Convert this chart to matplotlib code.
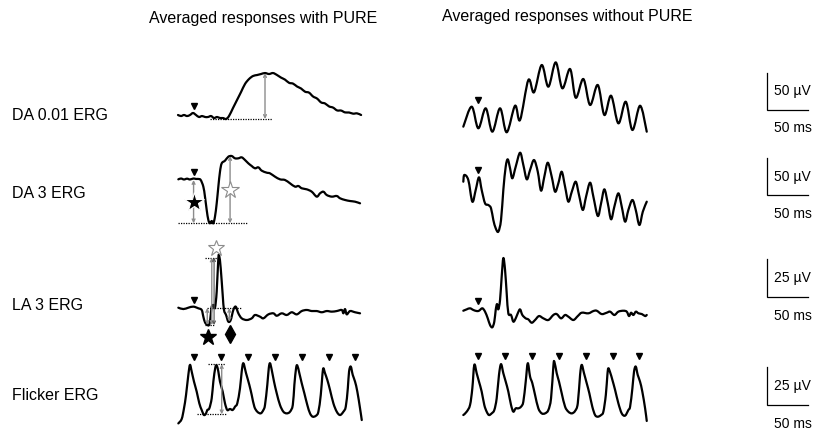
import matplotlib
matplotlib.use("Agg")
import matplotlib.pyplot as plt
import matplotlib.transforms as mtransforms
from matplotlib.path import Path
from matplotlib.patches import PathPatch

plt.rcParams['font.family'] = ['Liberation Sans', 'DejaVu Sans']

# ---------------- data (time in ms, amplitude in µV) ----------------
DA001_WITH = [(0,0),(3.7,-1.4),(7.3,0),(11,-1.4),(14.6,0),(18.3,2.7),(22,0),(25.6,-2.7),(29.3,-1.4),
              (33,-2.7),(36.6,-2.7),(40.3,-1.4),(43.9,-4.1),(47.6,-2.7),(51.2,-4.1),(54.9,-4.1),(58.6,-5.4),
              (62.2,-1.4),(67.1,9.5),(72,20.3),(76.9,31.1),(81.7,41.9),(86.6,48.6),(91.5,52.7),(96.4,54),
              (101.3,55.4),(106.1,56.7),(111,55.4),(115.9,56.7),(120.8,54),(125.7,50.5),(130.5,47.8),
              (135.4,43.5),(140.3,42.4),(145.2,38.5),(150.1,35.8),(154.9,31.5),(159.8,30.2),(164.7,25),
              (169.6,22.2),(174.5,17),(179.3,15.6),(184.2,11.6),(189.1,10),(194,6.2),(198.9,6),(203.7,3.5),
              (208.6,3.4),(213.5,1.8),(218.4,2.2),(223.3,0)]
DA001_WITHOUT = [(1.6,-9),(11.8,18),(19.9,-11.2),(28.9,15.8),(37,-15.8),(46.4,15.8),(54.5,-16.6),(64.7,19.3),
                 (70.8,0),(80.9,54),(87.8,37.4),(97.2,74.3),(105.3,45),(114.3,77.9),(122.4,42.8),(131.8,68.9),
                 (138.7,30.1),(148,55.4),(156.2,20.3),(165.6,47.3),(173.6,6.8),(181.8,32.8),(190.7,-4.5),
                 (199.7,24.7),(207.8,-13.5),(217.2,19.3),(225.3,-15.8)]
DA3_WITH = [(0.4,0.9),(3.7,2),(7.3,0.7),(11,1.8),(14.6,0.7),(18.7,2),(22,1.4),(25,1.4),(27.7,0),(30.9,-9),
            (32.9,-22.5),(35,-40.5),(37,-54),(39,-58.5),(41.1,-55.4),(43.1,-58.5),(45.1,-49.5),(47.2,-31.5),
            (49.2,-9),(51.2,11.2),(53.3,22.5),(57.3,26.1),(61.4,31.5),(65.5,32.4),(69.5,29.3),(73.6,29.3),
            (77.7,30.6),(81.7,27),(85.8,22.5),(89.9,18.9),(93.9,15.8),(98,17.1),(102.1,12.6),(108.2,9.9),
            (112.2,9),(118.3,4.5),(124.4,0.9),(130.5,0),(136.6,-4.5),(142.7,-9),(146.8,-8.1),(150.9,-11.2),
            (157,-12.6),(163.1,-15.8),(169.2,-22.5),(173.2,-18),(177.3,-15.8),(181.4,-20.3),(187.5,-22.5),
            (193.6,-21.6),(197.6,-24.7),(203.7,-27),(209.8,-28.4),(215.9,-29.3),(222,-31.5)]
DA3_WITHOUT = [(1.6,-2.3),(2.8,6.8),(7.7,0),(12.6,-29.3),(16.7,-13.5),(20.7,3.6),(24,-13.5),(28.1,-31.5),
               (32.1,-33.8),(35.4,-38.2),(38.2,-54),(41.1,-65.2),(44.3,-69.8),(47.6,-54),(50.4,-13.5),
               (53.3,18),(55.8,27.9),(58.6,15.8),(61.4,2.3),(65.5,18),(70.8,36.9),(74.8,20.3),(79,0.9),
               (83,13.5),(87.8,27),(92.4,11.2),(96.4,-14.4),(100.4,4.5),(104.6,23.4),(109.4,4.5),(113.5,-15.8),
               (117.5,-4.5),(121.6,11.2),(125.7,-9),(129.7,-29.3),(133.9,-15.8),(138.7,-2.3),(142.7,-20.3),
               (147.3,-40.5),(151.3,-22.5),(156.2,-3.6),(160.2,-22.5),(165.6,-48.6),(169.6,-31.5),
               (173.6,-12.6),(177.8,-31.5),(181.8,-53.1),(185.8,-36),(190.7,-18),(194.8,-36),(198.9,-56.3),
               (202.9,-40.5),(207.8,-27),(211.9,-40.5),(216.3,-60.8),(220.5,-42.8),(225.3,-29.3)]
LA3_WITH = [(0.4,0.2),(6.5,-0.7),(12.6,0.2),(18.7,0.9),(24.8,-0.2),(28.9,-1.3),(30.9,-5.7),(32.9,-9.4),
            (35.7,-11.2),(38.2,-10.8),(39.9,-4.6),(41.1,0.9),(43.1,2),(45.1,0.2),(47.2,10.8),(49.2,32.8),
            (50.4,33.9),(52.1,26.2),(54.5,8.6),(56.1,-1.3),(58.6,-4.6),(61.4,-9),(64.3,-7.9),(67.5,-1.3),
            (70.4,0.9),(73.6,-3.5),(77.7,-6.8),(83.8,-7.9),(89.9,-6.8),(93.9,-4.6),(100,-5.7),(104.1,-6.8),
            (110.2,-4.2),(116.3,-3.5),(120.4,-5.1),(126.5,-3.5),(132.6,-4.6),(138.7,-2.8),(144.8,-4.2),
            (150.9,-2),(157,-1.3),(163.1,-2),(169.2,-2),(175.3,-2.8),(181.4,-2),(187.5,-2.4),(193.6,-2),
            (199.7,-1.3),(201.7,-3.5),(203.7,-0.7),(205.8,-4.2),(209.8,-2),(215.9,-2.8),(222,-3.5)]
LA3_WITHOUT = [(1.6,-1.8),(5.7,-0.9),(9.8,-0.2),(13.8,-1.3),(17.9,-2),(20.7,-1.8),(24.8,-0.2),(28.1,-2.4),
               (31.4,-6.8),(34.2,-11.2),(37,-12.7),(39.4,-9),(41.1,-1.3),(42.7,2.6),(44.3,-0.9),(46.4,5.3),
               (48.4,20.7),(50.4,32.8),(52.5,25.1),(54.5,9.7),(56.5,-3.5),(59.8,-4.6),(62.6,-9),(65.5,-6.8),
               (68,-3.5),(70.8,-0.9),(73.6,-4.6),(77.7,-6.8),(80.9,-7.5),(85,-9.7),(89.1,-7.9),(93.9,-5.3),
               (99.2,-6.8),(105.3,-7.9),(111.4,-4.6),(115.5,-4),(120.8,-6.8),(125.7,-4.6),(129.7,-5.7),
               (135.8,-7.9),(141.2,-5.3),(146,-3.1),(154.1,-3.5),(160.2,-2),(164.3,-1.8),(170.4,-4),
               (176.5,-3.1),(180.6,-2.4),(185.8,-4.6),(190.7,-2.4),(196.8,-1.8),(200.9,-2.4),(203.7,-5.3),
               (206.2,-3.1),(209,-4.6),(212,-2.4),(215.2,-3.5),(219.4,-4),(223.3,-5.3),(225.3,-4.6)]
FLICKER_WITH = [(0.4,-7.5),(4.5,-4.6),(7.3,2.4),(9.8,11.2),(12.6,24.4),(14.6,31),(16.7,26.6),(19.5,20),
                (22.8,13.4),(26,5.7),(28.9,1.3),(31.7,-2),(34.2,-0.9),(35.7,1.3),(38.2,2.4),(41.1,9),(43.1,20),
                (45.5,29.2),(47.2,30.6),(49.2,26.6),(51.2,20),(54.5,13.4),(57.3,5.7),(60.1,1.3),(63.4,2),
                (66.7,1.3),(69.5,3.5),(72.3,5.7),(75.6,15.6),(77.7,26.6),(79.7,32.1),(83,25.5),(87,17.8),
                (89.9,11.2),(93.1,3.5),(96.7,0.2),(100.9,-0.9),(104.1,1.3),(106.1,4.6),(108.9,17.8),
                (110.7,28.8),(112.2,32.1),(114.3,27.7),(117.1,20),(120.4,12.3),(124.4,4.6),(128.5,0.2),
                (132.6,-0.9),(136.6,0.2),(140,4.6),(141.9,17.8),(144,28.8),(145.5,30.6),(148,25.5),
                (150.9,18.9),(154.1,12.3),(157.7,4.6),(161,-0.9),(164.3,-3.1),(168.4,-2.4),(171.2,0.2),
                (174.1,11.2),(176.1,24.4),(177.3,28.8),(179.3,25.5),(182.1,21.1),(185.4,14.5),(189.5,5.7),
                (193.6,0.2),(197.6,-2),(201.7,0.2),(204.6,3.5),(207.1,15.6),(208.6,26.6),(210.7,29.9),
                (213.1,24.4),(215.9,20),(218.7,13.4),(222,2.4),(224.1,-5.3)]
FLICKER_WITHOUT = [(1.6,-2),(5.7,0.2),(9.8,4.6),(12.6,15.6),(15,31),(17.9,25.5),(20.7,20),(24,13.4),
                   (27.2,4.6),(30.1,0.2),(32.9,-2),(36.2,-0.9),(39.4,1.3),(42.3,9),(45.1,24.4),(47.6,31.5),
                   (50.4,25.5),(53.3,20),(56.5,13.4),(59.8,4.6),(62.6,0.2),(65.5,2.4),(68.7,2.4),(72,3.5),
                   (74.8,6.8),(77.7,20),(80.2,32.1),(83,23.3),(85.8,18.9),(89.1,11.2),(93.1,2.4),(97.2,-0.9),
                   (101.3,-0.9),(105.3,1.3),(108.6,9),(111.4,29.9),(112.6,33.2),(115.5,25.5),(118.3,20),
                   (121.6,12.3),(125.7,3.5),(129.7,0.2),(133.9,-0.9),(137.9,0.7),(141.2,5.7),(144,24.4),
                   (146,31),(148.8,25.5),(152.1,18.9),(155.3,12.3),(158.9,3.5),(162.3,-2),(165.6,-3.1),
                   (169.6,-2),(172.4,0.2),(175.4,11.2),(177.3,24.4),(178.5,28.8),(181,25.5),(183.4,21.1),
                   (186.7,14.5),(190.7,5.7),(194.8,-0.9),(198.9,-2.4),(202.9,1.3),(205,3.5),(207.8,15.6),
                   (209.8,26.6),(211.9,29.9),(214.3,24.4),(217.1,20),(219.9,13.4),(223.3,2.4),(225.3,-5.9)]

STIM_MS = 19
FLICKER_FLASH_MS = [19, 52, 85, 118, 151, 184, 216]
ROW_LABELS = ["DA 0.01 ERG", "DA 3 ERG", "LA 3 ERG", "Flicker ERG"]
TITLES = ["Averaged responses with PURE", "Averaged responses without PURE"]
SCALE_UV = [50, 50, 25, 25]
SCALE_MS = 50

# ---------------- layout ----------------
W, H = 814, 430
fig = plt.figure(figsize=(W / 100, H / 100), dpi=100)
MS_PER_PX = 50 / 41
UPP = [50 / 37, 50 / 37, 25 / 38, 25 / 38]          # µV per pixel for each row
ROW_BOX = [(45, 95), (135, 105), (240, 110), (345, 85)]  # top, height (px)
ROW_Y0 = [(115, 120), (180, 180), (308, 308), (412, 412)]  # zero-µV pixel row (left, right)
COL_X = [(170, 178), (454, 462)]                    # axes left px, zero-ms px
BAR_Y0 = [110, 195, 297.3, 405]
GRAY = '#8c8c8c'


def make_axes(left, top, width, height, x0, y0, upp):
    ax = fig.add_axes([left / W, 1 - (top + height) / H, width / W, height / H])
    ax.set_xlim((left - x0) * MS_PER_PX, (left + width - x0) * MS_PER_PX)
    ax.set_ylim((y0 - (top + height)) * upp, (y0 - top) * upp)
    ax.axis('off')
    return ax


def unzip(trace):
    return [p[0] for p in trace], [p[1] for p in trace]


def draw_trace(ax, trace):
    """Smooth curve through every sample (cubic segments with Catmull-Rom tangents)."""
    t, v = unzip(trace)
    n = len(t)
    verts = [(t[0], v[0])]
    codes = [Path.MOVETO]
    for i in range(n - 1):
        a, b = max(i - 1, 0), min(i + 2, n - 1)
        c1 = (t[i] + (t[i + 1] - t[a]) / 6, v[i] + (v[i + 1] - v[a]) / 6)
        c2 = (t[i + 1] - (t[b] - t[i]) / 6, v[i + 1] - (v[b] - v[i]) / 6)
        verts += [c1, c2, (t[i + 1], v[i + 1])]
        codes += [Path.CURVE4] * 3
    ax.add_patch(PathPatch(Path(verts, codes), fill=False, ec='black', lw=1.6,
                           joinstyle='round', capstyle='round', clip_on=False))


def stim_marker(ax, trace, t_stim, window=8, dy=7):
    t, v = unzip(trace)
    near = [vv for tt, vv in zip(t, v) if abs(tt - t_stim) <= window]
    tr = mtransforms.offset_copy(ax.transData, fig=fig, x=0, y=dy, units='dots')
    ax.plot([t_stim], [max(near)], marker='v', color='black', ms=4.5, transform=tr, clip_on=False)


def vline_arrow(ax, t, v0, v1, color=GRAY, lw=1.0):
    ax.annotate('', xy=(t, v1), xytext=(t, v0),
                arrowprops=dict(arrowstyle='<->', color=color, lw=lw, shrinkA=0, shrinkB=0,
                                mutation_scale=5), annotation_clip=False)


def hdots(ax, v, t0, t1):
    ax.plot([t0, t1], [v, v], color='black', lw=0.9, ls=(0, (1, 1)), clip_on=False)


rows = [(DA001_WITH, DA001_WITHOUT), (DA3_WITH, DA3_WITHOUT),
        (LA3_WITH, LA3_WITHOUT), (FLICKER_WITH, FLICKER_WITHOUT)]
axes = []
for r, (tw, two) in enumerate(rows):
    top, hgt = ROW_BOX[r]
    pair = []
    for c, trace in enumerate((tw, two)):
        left, x0 = COL_X[c]
        ax = make_axes(left, top, 200, hgt, x0, ROW_Y0[r][c], UPP[r])
        draw_trace(ax, trace)
        if r < 3:
            stim_marker(ax, trace, STIM_MS)
        else:
            for f in FLICKER_FLASH_MS:
                stim_marker(ax, trace, f, window=300, dy=6)
        pair.append(ax)
    axes.append(pair)

# ---------------- measurement annotations (left column) ----------------
# DA 0.01: b-wave
ax = axes[0][0]
t, v = unzip(DA001_WITH)
vmin = min(v)
ipk = v.index(max(v))
hdots(ax, vmin, 39, 115)
vline_arrow(ax, t[ipk], vmin, max(v))

# DA 3: a-wave (filled star) and b-wave (hollow star)
ax = axes[1][0]
t, v = unzip(DA3_WITH)
vmin = min(v)
vmax = max(v)
tpk = t[v.index(vmax)] - 2
hdots(ax, vmin, 0, 84)
vline_arrow(ax, STIM_MS, 0, vmin)
vline_arrow(ax, tpk, vmin, vmax)
ax.plot([STIM_MS], [vmin / 2], marker='*', ms=15, color='black', mec='white', mew=0.8,
        clip_on=False, zorder=5)
ax.plot([tpk], [(vmin + vmax) / 2], marker='*', ms=13, mfc='white', mec=GRAY, mew=0.8,
        clip_on=False, zorder=5)

# LA 3: a-wave, b-wave, i-wave
ax = axes[2][0]
t, v = unzip(LA3_WITH)
vmin = min(v)
tmin = t[v.index(vmin)]
vmax = max(v)
tmax = t[v.index(vmax)]
i_trough = min(v[t.index(56.1):t.index(70.4)])
t_trough = t[v.index(i_trough)]
hdots(ax, 0, 35, 78)
hdots(ax, vmax - 0.7, 33, 51)
hdots(ax, vmin, 33, 45)
vline_arrow(ax, tmin, 0, vmin)
vline_arrow(ax, tmin + 5.5, vmin, vmax - 0.7)
vline_arrow(ax, tmin + 8.3, vmin, vmax - 0.7, color='#555555', lw=0.8)
vline_arrow(ax, t_trough + 1.2, 0, i_trough)
tr_up = mtransforms.offset_copy(ax.transData, fig=fig, x=0, y=8, units='dots')
tr_dn = mtransforms.offset_copy(ax.transData, fig=fig, x=0, y=-12, units='dots')
ax.plot([tmax - 4], [vmax], marker='*', ms=12, mfc='white', mec=GRAY, mew=0.8, transform=tr_up, clip_on=False)
ax.plot([tmin + 1.3], [vmin], marker='*', ms=12, color='black', transform=tr_dn, clip_on=False)
ax.plot([t_trough + 2], [i_trough], marker='d', ms=9, color='black', transform=tr_dn, clip_on=False)

# Flicker: peak-to-trough
ax = axes[3][0]
t, v = unzip(FLICKER_WITH)
fpk = max(vv for tt, vv in zip(t, v) if 40 <= tt <= 55)
ftr = min(vv for tt, vv in zip(t, v) if 25 <= tt <= 40)
hdots(ax, fpk + 0.9, 36.6, 57.3)
hdots(ax, ftr + 0.5, 22.8, 59.4)
vline_arrow(ax, 53.3, ftr + 0.5, fpk + 0.9)

# ---------------- scale bars ----------------
for r in range(4):
    top, hgt = ROW_BOX[r]
    ax = make_axes(757, top, 57, hgt, 767, BAR_Y0[r], UPP[r])
    ax.plot([0, 0, SCALE_MS], [SCALE_UV[r], 0, 0], color='black', lw=0.9, clip_on=False,
            solid_joinstyle='miter')
    ax.text(SCALE_MS * 0.16, SCALE_UV[r] / 2, f"{SCALE_UV[r]} µV", fontsize=10, va='center', ha='left')
    ax.text(SCALE_MS * 0.16, -SCALE_UV[r] / 2, f"{SCALE_MS} ms", fontsize=10, va='center', ha='left')

# ---------------- texts ----------------
for lab, yc in zip(ROW_LABELS, [115, 194, 306, 395]):
    fig.text(12 / W, 1 - yc / H, lab, fontsize=11.5, va='center', ha='left')
fig.text(263 / W, 1 - 18 / H, TITLES[0], fontsize=11.5, va='center', ha='center')
fig.text(567 / W, 1 - 17 / H, TITLES[1], fontsize=11.5, va='center', ha='center')

fig.savefig('out.png', dpi=100)
